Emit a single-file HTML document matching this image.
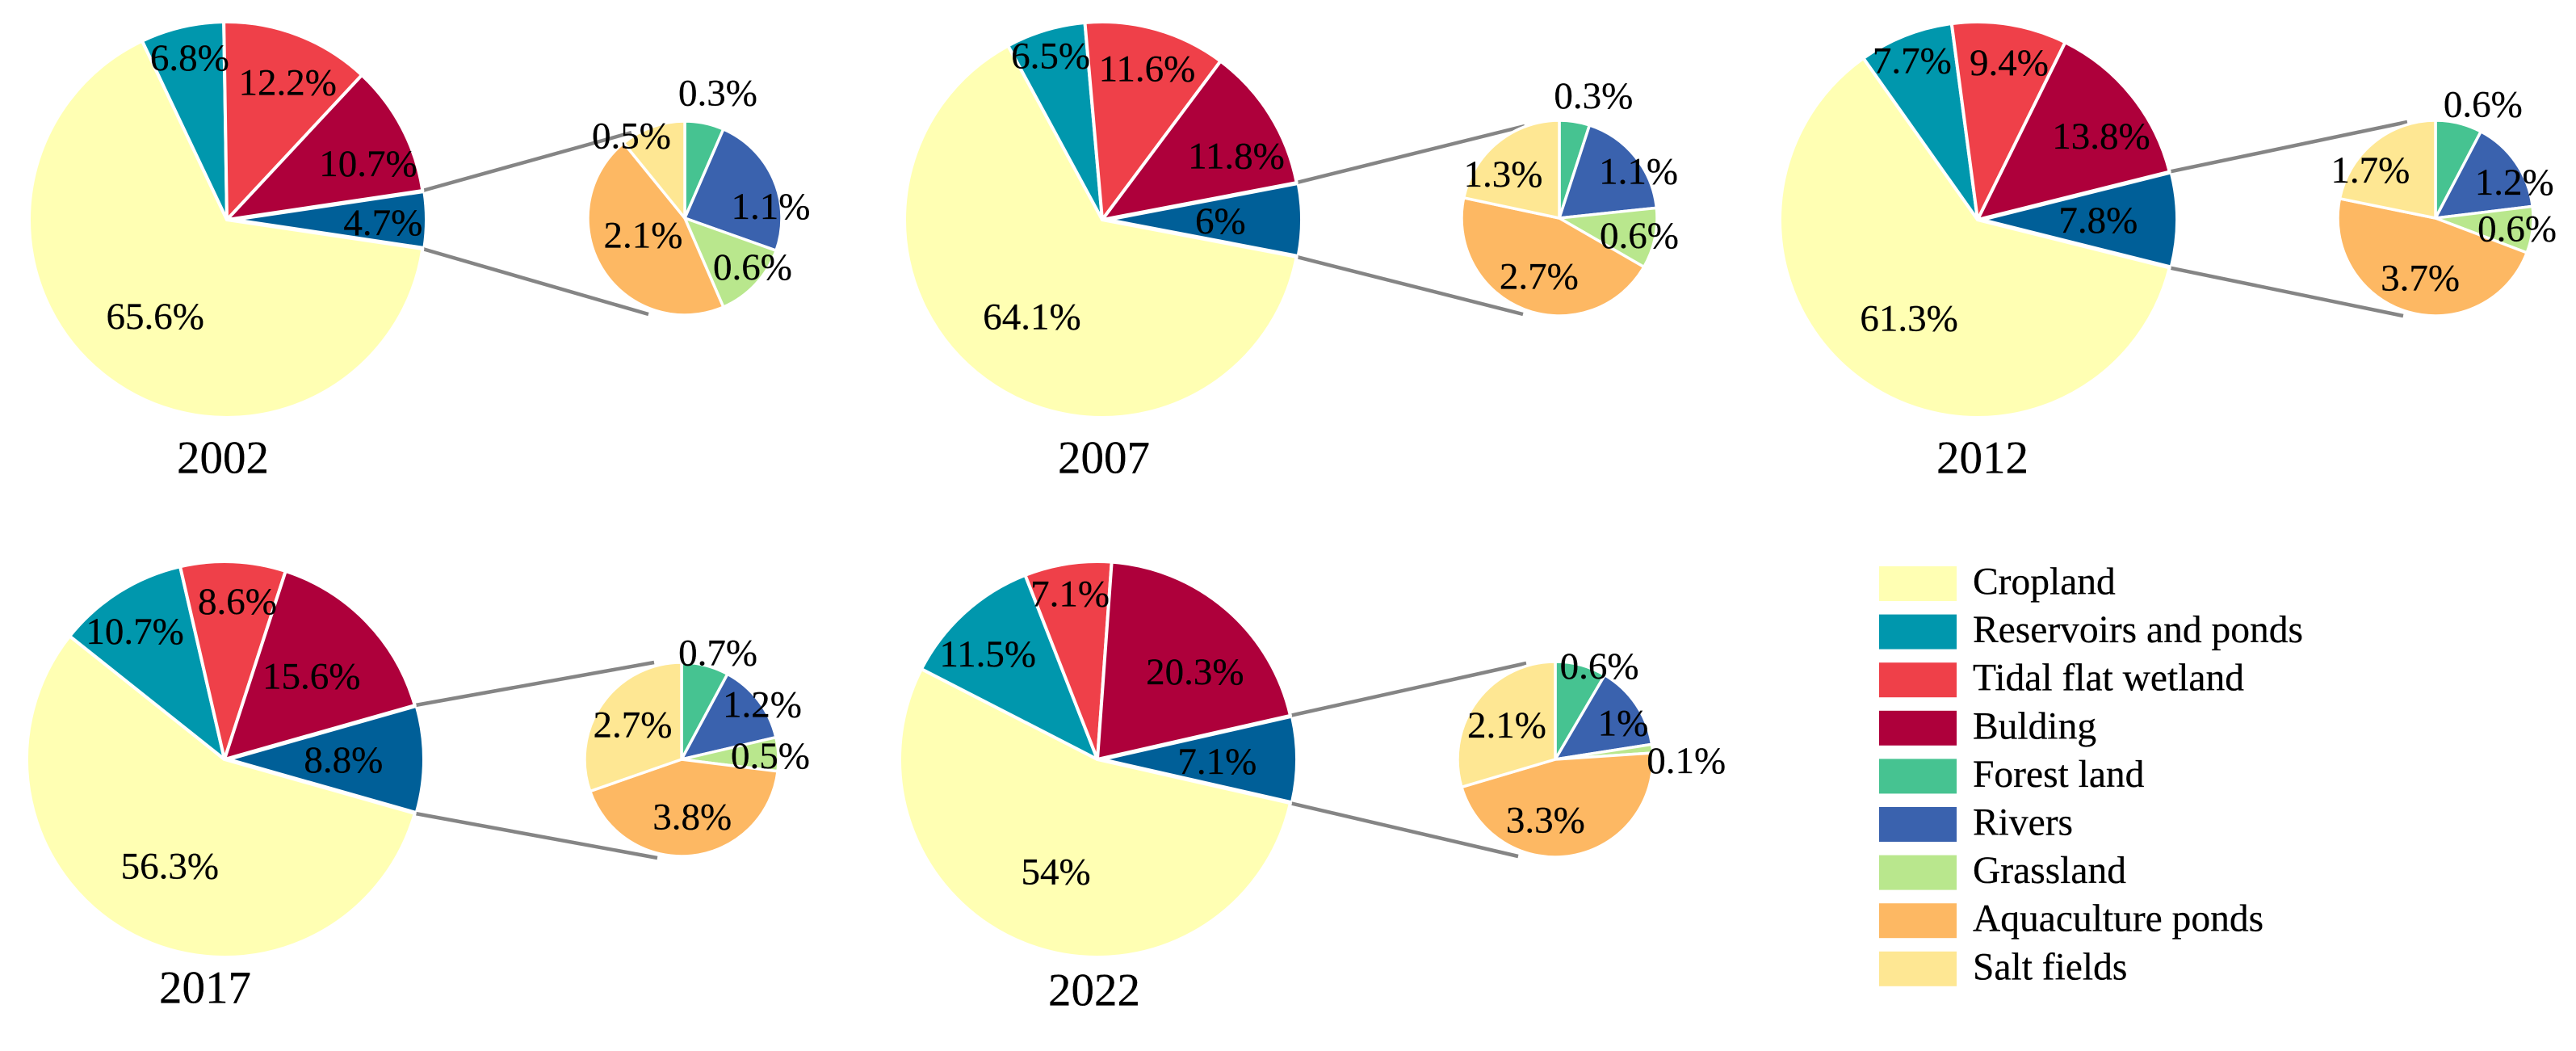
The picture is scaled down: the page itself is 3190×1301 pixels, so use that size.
<!DOCTYPE html>
<html lang="en">
<head>
<meta charset="utf-8">
<title>Land use composition pie-of-pie charts</title>
<style>
  html, body { margin: 0; padding: 0; background: #ffffff; }
  body { width: 3190px; height: 1301px; overflow: hidden; }
  svg { display: block; }
  text { font-family: "Liberation Serif", serif; fill: #000000; stroke: #000000; stroke-width: 0.25px; }
</style>
</head>
<body>
<svg id="chart" xmlns="http://www.w3.org/2000/svg" width="3190" height="1301" viewBox="0 0 3190 1301"></svg>
<script>
// ---- chart data (percent of total area) ----
const years = ['2002', '2007', '2012', '2017', '2022'];
const categories = ['Cropland', 'Reservoirs and ponds', 'Tidal flat wetland', 'Bulding', 'Forest land', 'Rivers', 'Grassland', 'Aquaculture ponds', 'Salt fields'];
const cropland = [65.6, 64.1, 61.3, 56.3, 54];
const reservoirs = [6.8, 6.5, 7.7, 10.7, 11.5];
const tidalFlat = [12.2, 11.6, 9.4, 8.6, 7.1];
const building = [10.7, 11.8, 13.8, 15.6, 20.3];
const otherLand = [4.7, 6, 7.8, 8.8, 7.1];
const forest = [0.3, 0.3, 0.6, 0.7, 0.6];
const rivers = [1.1, 1.1, 1.2, 1.2, 1];
const grassland = [0.6, 0.6, 0.6, 0.5, 0.1];
const aquaculture = [2.1, 2.7, 3.7, 3.8, 3.3];
const saltFields = [0.5, 1.3, 1.7, 2.7, 2.1];

// ---- appearance and layout (not data) ----
const colors = ['#FFFFB3', '#0097AD', '#EF4049', '#AE003B', '#46C391', '#3A62AE', '#B9E78D', '#FDB863', '#FEE793'];
const otherColor = '#005F98';
const panels = [
  { cx: 281,  cy: 272, r: 245, sx: 848,  sy: 270, sr: 120, up: [782, 164],  low: [803, 389],  yearX: 276,  yearY: 566 },
  { cx: 1365, cy: 272, r: 245, sx: 1931, sy: 270, sr: 121, up: [1888, 156], low: [1886, 389], yearX: 1367, yearY: 566 },
  { cx: 2449, cy: 272, r: 245, sx: 3016, sy: 270, sr: 121, up: [2981, 151], low: [2976, 391], yearX: 2455, yearY: 566 },
  { cx: 278,  cy: 940, r: 245, sx: 844,  sy: 940, sr: 120, up: [810, 820],  low: [814, 1062], yearX: 254,  yearY: 1222 },
  { cx: 1359, cy: 940, r: 245, sx: 1926, sy: 940, sr: 121, up: [1890, 821], low: [1880, 1060], yearX: 1355, yearY: 1225 }
];
// label nudges from each slice's default anchor: other, cropland, reservoirs, tidal, building
const mainNudges = [
  [[34, 3], [6, -9], [-10, -46], [18, -22], [34, 4]],
  [[-13, 1], [7, -9], [-18, -51], [12, -34], [31, 5]],
  [[-10, 0], [5, -10], [-23, -49], [13, -38], [29, -4]],
  [[-12, 0], [5, -10], [-26, -24], [9, -37], [-7, 7]],
  [[-11, 2], [3, -11], [-29, -13], [-10, -48], [17, 12]]
];
// forest, rivers, grassland, aquaculture, salt
const smallNudges = [
  [[25, -79], [35, 16], [27, 7], [15, -20], [-40, -29]],
  [[30, -74], [37, -9], [22, 5], [3, -2], [-20, 6]],
  [[40, -65], [33, 0], [23, 3], [3, -2], [-31, 1]],
  [[26, -57], [38, -21], [32, -1], [5, -7], [3, 2]],
  [[34, -40], [19, -1], [84, 10], [-26, -3], [3, 4]]
];

const NS = 'http://www.w3.org/2000/svg';
const svg = document.getElementById('chart');
const LABEL_SIZE = 47;
const YEAR_SIZE = 57;
const LEGEND_SIZE = 47.5;
const SLICE_GAP = 2.3; // perpendicular gap of the split-out slice

function polar(cx, cy, r, deg) {
  const t = deg * Math.PI / 180;
  return [cx + r * Math.sin(t), cy - r * Math.cos(t)];
}
function wedgePath(cx, cy, r, a0, a1) {
  const p0 = polar(cx, cy, r, a0);
  const p1 = polar(cx, cy, r, a1);
  const large = (a1 - a0) > 180 ? 1 : 0;
  return 'M' + cx + ' ' + cy + 'L' + p0[0].toFixed(2) + ' ' + p0[1].toFixed(2) +
    'A' + r + ' ' + r + ' 0 ' + large + ' 1 ' + p1[0].toFixed(2) + ' ' + p1[1].toFixed(2) + 'Z';
}
function drawWedge(parent, name, d, fill, strokeWidth) {
  const el = document.createElementNS(NS, 'path');
  
  
  el.setAttribute('d', d);
  el.setAttribute('fill', fill);
  el.setAttribute('stroke', '#ffffff');
  el.setAttribute('stroke-width', strokeWidth);
  el.setAttribute('stroke-linejoin', 'round');
  parent.appendChild(el);
}
function drawText(parent, name, str, x, baseline, size, anchor) {
  const el = document.createElementNS(NS, 'text');
  
  
  el.setAttribute('x', x.toFixed(1));
  el.setAttribute('y', baseline.toFixed(1));
  el.setAttribute('font-size', size);
  el.setAttribute('text-anchor', anchor);
  el.textContent = str;
  parent.appendChild(el);
}
function drawLabel(parent, name, value, pos, nudge) {
  drawText(parent, name, value + '%', pos[0] + nudge[0], pos[1] + nudge[1] + LABEL_SIZE * 0.338, LABEL_SIZE, 'middle');
}
function drawConnector(parent, name, from, to) {
  const el = document.createElementNS(NS, 'line');
  
  
  el.setAttribute('x1', from[0].toFixed(1));
  el.setAttribute('y1', from[1].toFixed(1));
  el.setAttribute('x2', to[0]);
  el.setAttribute('y2', to[1]);
  el.setAttribute('stroke', '#858585');
  el.setAttribute('stroke-width', 4.5);
  parent.appendChild(el);
}

years.forEach(function (year, i) {
  const p = panels[i];
  const g = document.createElementNS(NS, 'g');
  
  
  svg.appendChild(g);

  // main pie: the "other" slice is centred at 3 o'clock, the rest run clockwise from it
  const mainValues = [otherLand[i], cropland[i], reservoirs[i], tidalFlat[i], building[i]];
  const mainNames = ['other-land', 'cropland', 'reservoirs', 'tidal-flat', 'building'];
  const mainFills = [otherColor, colors[0], colors[1], colors[2], colors[3]];
  const mainTotal = mainValues.reduce(function (a, b) { return a + b; }, 0);
  const otherSpan = otherLand[i] / mainTotal * 360;
  const start = 90 - otherSpan / 2;
  const otherEnd = start + otherSpan;

  // connectors first, so the pies sit above them
  drawConnector(g, 'connector-upper-' + year, polar(p.cx, p.cy, p.r, start), p.up);
  drawConnector(g, 'connector-lower-' + year, polar(p.cx, p.cy, p.r, otherEnd), p.low);

  const mainMids = [];
  let a = start;
  mainValues.forEach(function (v, k) {
    const span = v / mainTotal * 360;
    if (k === 0) {
      const shift = SLICE_GAP / Math.sin(span / 2 * Math.PI / 180);
      drawWedge(g, 'slice-' + mainNames[k] + '-' + year, wedgePath(p.cx + shift, p.cy, p.r - shift + 1, a, a + span), mainFills[k], 2);
    } else {
      drawWedge(g, 'slice-' + mainNames[k] + '-' + year, wedgePath(p.cx, p.cy, p.r, a, a + span), mainFills[k], 4);
    }
    mainMids.push(a + span / 2);
    a += span;
  });

  // secondary pie: starts at 12 o'clock
  const smallValues = [forest[i], rivers[i], grassland[i], aquaculture[i], saltFields[i]];
  const smallNames = ['forest', 'rivers', 'grassland', 'aquaculture', 'salt-fields'];
  const smallFills = [colors[4], colors[5], colors[6], colors[7], colors[8]];
  const smallTotal = smallValues.reduce(function (x, y) { return x + y; }, 0);
  const smallMids = [];
  let b = 0;
  smallValues.forEach(function (v, k) {
    const span = v / smallTotal * 360;
    drawWedge(g, 'slice-' + smallNames[k] + '-' + year, wedgePath(p.sx, p.sy, p.sr, b, b + span), smallFills[k], 3.5);
    smallMids.push(b + span / 2);
    b += span;
  });

  // labels on top of every slice
  mainValues.forEach(function (v, k) {
    drawLabel(g, 'label-' + mainNames[k] + '-' + year, v, polar(p.cx, p.cy, p.r * 0.65, mainMids[k]), mainNudges[i][k]);
  });
  smallValues.forEach(function (v, k) {
    drawLabel(g, 'label-' + smallNames[k] + '-' + year, v, polar(p.sx, p.sy, p.sr * 0.65, smallMids[k]), smallNudges[i][k]);
  });

  drawText(g, 'year-title-' + year, year, p.yearX, p.yearY + YEAR_SIZE * 0.338, YEAR_SIZE, 'middle');
});

// legend
const legend = document.createElementNS(NS, 'g');


svg.appendChild(legend);
categories.forEach(function (cat, i) {
  const y = 701 + 59.6 * i;
  const slug = cat.toLowerCase().replace(/\s+/g, '-');
  const swatch = document.createElementNS(NS, 'rect');
  
  
  swatch.setAttribute('x', 2327);
  swatch.setAttribute('y', y.toFixed(1));
  swatch.setAttribute('width', 96);
  swatch.setAttribute('height', 43);
  swatch.setAttribute('fill', colors[i]);
  legend.appendChild(swatch);
  drawText(legend, 'legend-label-' + slug, cat, 2443, y + 34.5, LEGEND_SIZE, 'start');
});
</script>
</body>
</html>
